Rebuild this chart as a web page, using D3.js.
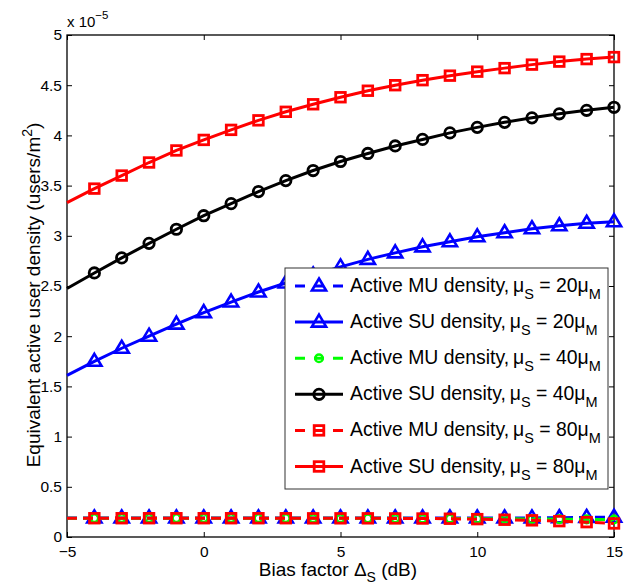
<!DOCTYPE html>
<html><head><meta charset="utf-8">
<script src="https://cdn.jsdelivr.net/npm/d3@7"></script>
<style>body{margin:0;background:#fff}svg{display:block}text{font-family:"Liberation Sans",Arial,Helvetica,sans-serif}</style>
</head><body>
<svg id="c" width="637" height="584"></svg>
<script>
const xs = [-5,-4,-3,-2,-1,0,1,2,3,4,5,6,7,8,9,10,11,12,13,14,15];
const muBlue20 = [0.19,0.19,0.19,0.19,0.19,0.19,0.19,0.19,0.19,0.19,0.19,0.19,0.19,0.19,0.19,0.19,0.19,0.19,0.192,0.195,0.197];
const suBlue20 = [1.61,1.75,1.88,2.00,2.12,2.235,2.34,2.44,2.53,2.61,2.69,2.765,2.83,2.89,2.94,2.99,3.03,3.07,3.10,3.125,3.14];
const muGreen40 = [0.188,0.188,0.188,0.188,0.188,0.188,0.188,0.188,0.188,0.187,0.187,0.186,0.186,0.185,0.184,0.183,0.182,0.18,0.178,0.176,0.174];
const suBlack40 = [2.475,2.63,2.78,2.925,3.065,3.20,3.32,3.44,3.55,3.65,3.74,3.82,3.895,3.96,4.025,4.08,4.13,4.175,4.215,4.25,4.28];
const muRed80 = [0.187,0.187,0.187,0.187,0.187,0.187,0.187,0.187,0.187,0.186,0.186,0.186,0.185,0.184,0.182,0.178,0.172,0.166,0.158,0.148,0.135];
const suRed80 = [3.33,3.47,3.60,3.73,3.85,3.955,4.055,4.15,4.235,4.31,4.38,4.445,4.50,4.55,4.595,4.635,4.67,4.705,4.735,4.76,4.78];
const xTicks = [-5,0,5,10,15];
const yTicks = [0,0.5,1,1.5,2,2.5,3,3.5,4,4.5,5];
const muValues = ["20","20","40","40","80","80"];

const series = [
  {data: muBlue20, color:"#0000ff", dash:true, marker:"tri", kind:"MU", mu:muValues[0]},
  {data: suBlue20, color:"#0000ff", dash:false, marker:"tri", kind:"SU", mu:muValues[1]},
  {data: muGreen40, color:"#00ff00", dash:true, marker:"circS", kind:"MU", mu:muValues[2]},
  {data: suBlack40, color:"#000000", dash:false, marker:"circ", kind:"SU", mu:muValues[3]},
  {data: muRed80, color:"#ff0000", dash:true, marker:"sq", kind:"MU", mu:muValues[4]},
  {data: suRed80, color:"#ff0000", dash:false, marker:"sq", kind:"SU", mu:muValues[5]}
];

const L=67, R=614, T=35, B=537;
const x = d3.scaleLinear().domain([-5,15]).range([L,R]);
const y = d3.scaleLinear().domain([0,5]).range([B,T]);
const svg = d3.select("#c");

const gx = svg.append("g").attr("transform",`translate(0,${B})`)
  .call(d3.axisBottom(x).tickValues(xTicks).tickSizeInner(-5).tickSizeOuter(0).tickPadding(9).tickFormat(d=> d<0? "\u2212"+Math.abs(d): d));
const gxt = svg.append("g").attr("transform",`translate(0,${T})`)
  .call(d3.axisTop(x).tickValues(xTicks).tickSizeInner(-5).tickSizeOuter(0).tickFormat(""));
const gy = svg.append("g").attr("transform",`translate(${L},0)`)
  .call(d3.axisLeft(y).tickValues(yTicks).tickSizeInner(-5).tickSizeOuter(0).tickPadding(5).tickFormat(d=>d));
const gyr = svg.append("g").attr("transform",`translate(${R},0)`)
  .call(d3.axisRight(y).tickValues(yTicks).tickSizeInner(-5).tickSizeOuter(0).tickFormat(""));
[gx,gxt,gy,gyr].forEach(g=>{
  g.select(".domain").remove();
  g.selectAll("line").attr("stroke","#000").attr("stroke-width",1);
  g.selectAll("text").attr("fill","#000").style("font-size","15.5px").style("font-family","'Liberation Sans',Arial,sans-serif");
});
gx.selectAll("text").attr("dy","0.71em");
svg.append("rect").attr("x",L).attr("y",T).attr("width",R-L).attr("height",B-T)
  .attr("fill","none").attr("stroke","#000").attr("stroke-width",1.3);

// multiplier
const mt = svg.append("text").attr("x",L).attr("y",27).style("font-size","15px");
mt.append("tspan").text("x 10");
mt.append("tspan").attr("dy",-8).style("font-size","11.5px").text("\u22125");

// axis labels
const xl = svg.append("text").attr("x",338).attr("y",576).attr("text-anchor","middle").style("font-size","19px");
xl.append("tspan").text("Bias factor \u0394");
xl.append("tspan").attr("dy",6).style("font-size","14px").text("S");
xl.append("tspan").attr("dy",-6).text(" (dB)");
const yl = svg.append("text").attr("transform",`translate(40,295) rotate(-90)`).attr("text-anchor","middle").style("font-size","19px");
yl.append("tspan").text("Equivalent active user density (users/m");
yl.append("tspan").attr("dy",-8).style("font-size","14px").text("2");
yl.append("tspan").attr("dy",8).text(")");

function drawMarker(g, type, cx, cy, color){
  if(type==="tri"){
    const s=7.5;
    g.append("path").attr("d",`M${cx},${cy-s} L${cx+s*0.95},${cy+s*0.6} L${cx-s*0.95},${cy+s*0.6} Z`)
      .attr("fill","none").attr("stroke",color).attr("stroke-width",2.6).attr("stroke-linejoin","miter");
  } else if(type==="circ"){
    g.append("circle").attr("cx",cx).attr("cy",cy).attr("r",5.2).attr("fill","none").attr("stroke",color).attr("stroke-width",2.8);
  } else if(type==="circS"){
    g.append("circle").attr("cx",cx).attr("cy",cy).attr("r",3.8).attr("fill","none").attr("stroke",color).attr("stroke-width",2.5);
  } else if(type==="sq"){
    g.append("rect").attr("x",cx-4.8).attr("y",cy-4.8).attr("width",9.6).attr("height",9.6).attr("fill","none").attr("stroke",color).attr("stroke-width",2.8);
  }
}

const line = d3.line().x((d,i)=>x(xs[i])).y(d=>y(d));
const plot = svg.append("g");
series.forEach(s=>{
  const g = plot.append("g");
  g.append("path").attr("d",line(s.data)).attr("fill","none").attr("stroke",s.color)
    .attr("stroke-width",3).attr("stroke-dasharray",s.dash?"10,6":null);
  s.data.forEach((v,i)=>{ if(i>0) drawMarker(g,s.marker,x(xs[i]),y(v),s.color); });
});

// legend
const lg = svg.append("g");
lg.append("rect").attr("x",285).attr("y",268).attr("width",323).attr("height",221).attr("fill","#fff").attr("stroke","#333").attr("stroke-width",1);
series.forEach((s,i)=>{
  const cy = 286 + i*36.1;
  lg.append("line").attr("x1",295).attr("x2",343).attr("y1",cy).attr("y2",cy).attr("stroke",s.color)
    .attr("stroke-width",3).attr("stroke-dasharray",s.dash?"10,9":null);
  drawMarker(lg,s.marker,319,cy,s.color);
  const t = lg.append("text").attr("x",350).attr("y",cy+6).style("font-size","19.4px").attr("fill","#000");
  t.append("tspan").text(`Active ${s.kind} density,\u2009\u03bc`);
  t.append("tspan").attr("dy",7).style("font-size","14.5px").text("S");
  t.append("tspan").attr("dy",-7).text(` = ${s.mu}\u03bc`);
  t.append("tspan").attr("dy",7).style("font-size","14.5px").text("M");
});
</script>
</body></html>
